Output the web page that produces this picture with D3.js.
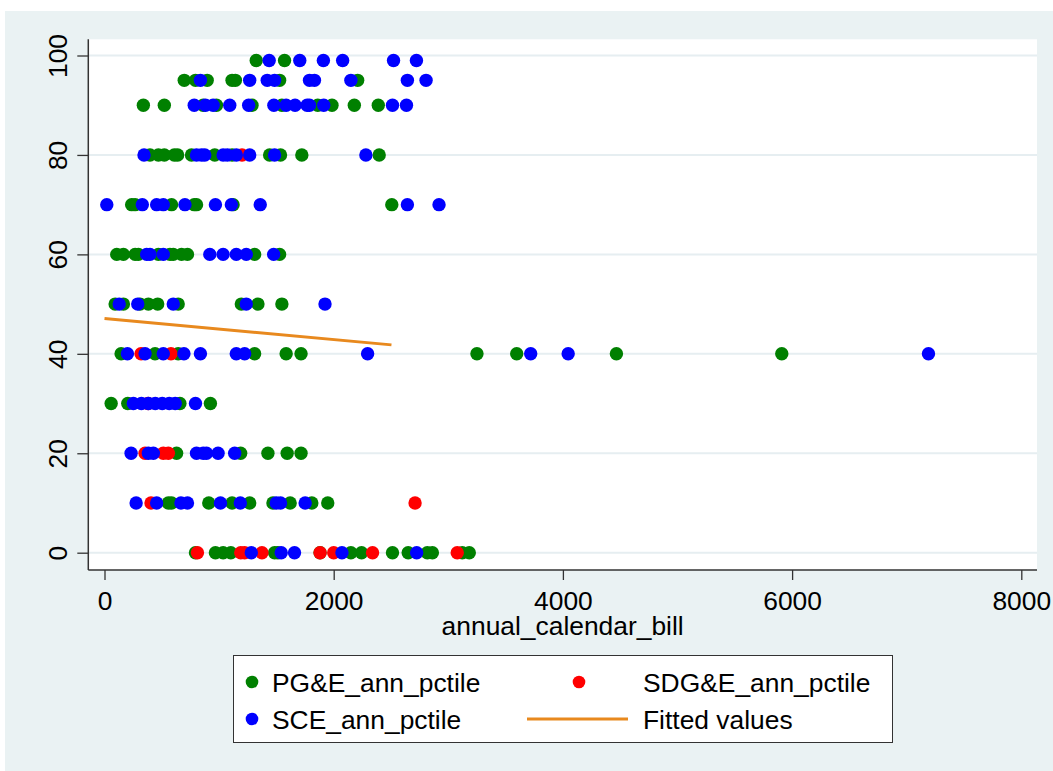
<!DOCTYPE html>
<html>
<head>
<meta charset="utf-8">
<script src="https://cdn.jsdelivr.net/npm/d3@7/dist/d3.min.js"></script>
<style>
  html, body { margin: 0; padding: 0; background: #ffffff; }
  svg { display: block; }
  text { font-family: "Liberation Sans", Arial, Helvetica, sans-serif; fill: #000; }
</style>
</head>
<body>
<svg id="chart" width="1053" height="771"></svg>
<script>
// Annual bill (x) versus annual percentile (y), by utility.
const pgePoints = [
  [1324,99],[1571,99],
  [696,95],[794,95],[896,95],[1113,95],[1142,95],[1528,95],[2209,95],
  [339,90],[522,90],[861,90],[977,90],[1287,90],[1548,90],[1861,90],[1985,90],[2180,90],[2389,90],
  [397,80],[470,80],[522,80],[609,80],[638,80],[759,80],[962,80],[1113,80],[1441,80],[1536,80],[1722,80],[2397,80],
  [237,70],[267,70],[585,70],[783,70],[803,70],[1122,70],[2507,70],
  [107,60],[165,60],[267,60],[296,60],[470,60],[571,60],[600,60],[672,60],[724,60],[1310,60],[1528,60],
  [93,50],[165,50],[310,50],[383,50],[464,50],[643,50],[1194,50],[1339,50],[1548,50],
  [145,40],[441,40],[643,40],[1310,40],[1585,40],[1715,40],[3250,40],[3597,40],[4467,40],[5910,40],
  [58,30],[203,30],[658,30],[924,30],
  [629,20],[1188,20],[1426,20],[1594,20],[1715,20],
  [557,10],[585,10],[910,10],[1113,10],[1267,10],[1470,10],[1620,10],[1809,10],[1948,10],
  [794,0],[968,0],[1035,0],[1102,0],[1484,0],[1513,0],[1881,0],[2150,0],[2243,0],[2513,0],[2650,0],[2817,0],[2861,0],[3122,0],[3183,0]
];

const sdgePoints = [
  [1200,80],
  [319,40],[580,40],
  [380,30],
  [354,20],[513,20],[557,20],
  [406,10],[2710,10],
  [811,0],[1189,0],[1223,0],[1374,0],[1881,0],[2000,0],[2339,0],[3078,0]
];

const scePoints = [
  [1437,99],[1704,99],[1910,99],[2078,99],[2522,99],[2722,99],
  [837,95],[1267,95],[1420,95],[1484,95],[1789,95],[1832,95],[2150,95],[2643,95],[2806,95],
  [783,90],[881,90],[948,90],[1093,90],[1258,90],[1478,90],[1585,90],[1663,90],[1768,90],[1789,90],[1913,90],[2513,90],[2635,90],
  [345,80],[803,80],[846,80],[875,80],[1035,80],[1072,80],[1150,80],[1267,80],[1484,80],[2281,80],
  [20,70],[330,70],[455,70],[513,70],[702,70],[968,70],[1107,70],[1359,70],[2643,70],[2919,70],
  [368,60],[397,60],[513,60],[919,60],[1035,60],[1150,60],[1237,60],[1476,60],
  [128,50],[290,50],[600,50],[1237,50],[1924,50],
  [200,40],[354,40],[513,40],[693,40],[837,40],[1150,40],[1223,40],[2296,40],[3719,40],[4046,40],[7190,40],
  [252,30],[322,30],[383,30],[443,30],[504,30],[565,30],[617,30],[794,30],
  [232,20],[383,20],[426,20],[803,20],[861,20],[890,20],[991,20],[1136,20],
  [276,10],[455,10],[667,10],[724,10],[1012,10],[1185,10],[1499,10],[1536,10],[1751,10],
  [1281,0],[1542,0],[1658,0],[2072,0],[2724,0]
];

const fittedPoints = [[0,47.1],[2504,41.8]];

const xTicks = [0, 2000, 4000, 6000, 8000];
const yTicks = [0, 20, 40, 60, 80, 100];
const xTitle = "annual_calendar_bill";
const legendLabels = ["PG&E_ann_pctile", "SDG&E_ann_pctile", "SCE_ann_pctile", "Fitted values"];

// ---- layout ----
const W = 1053, H = 771;
const plot = { left: 88.3, top: 39.3, right: 1037, bottom: 570 };
const colors = { pge: "#008000", sdge: "#ff0000", sce: "#0000ff", fit: "#e8891e" };
const fontSize = 26.4;

const svg = d3.select("#chart");

svg.append("rect").attr("x", 5).attr("y", 11).attr("width", W - 5).attr("height", H - 11)
  .attr("fill", "#eaf2f3");
svg.append("rect").attr("x", plot.left).attr("y", plot.top)
  .attr("width", plot.right - plot.left).attr("height", plot.bottom - plot.top)
  .attr("fill", "#ffffff");

const x = d3.scaleLinear().domain([0, 8000]).range([104.5, 1021.3]);
const y = d3.scaleLinear().domain([0, 100]).range([552.7, 55.5]);

// grid lines
svg.append("g").selectAll("line").data(yTicks).join("line")
  .attr("x1", plot.left).attr("x2", plot.right)
  .attr("y1", d => y(d)).attr("y2", d => y(d))
  .attr("stroke", "#e6eef1").attr("stroke-width", 2);

// axes
const yAxis = svg.append("g").attr("transform", `translate(${plot.left},0)`)
  .call(d3.axisLeft(y).tickValues(yTicks).tickSize(11).tickSizeOuter(0).tickFormat(d3.format("d")));
yAxis.select(".domain").remove();
yAxis.selectAll(".tick line").attr("stroke", "#333").attr("stroke-width", 1.3);
yAxis.selectAll(".tick text")
  .attr("transform", "rotate(-90)")
  .attr("x", 0).attr("y", -21.6).attr("dy", null)
  .attr("text-anchor", "middle")
  .style("font-size", fontSize + "px")
  .style("font-family", "'Liberation Sans', Arial, sans-serif")
  .attr("fill", "#000");

const xAxis = svg.append("g").attr("transform", `translate(0,${plot.bottom})`)
  .call(d3.axisBottom(x).tickValues(xTicks).tickSize(10).tickPadding(11).tickSizeOuter(0).tickFormat(d3.format("d")));
xAxis.select(".domain").remove();
xAxis.selectAll(".tick line").attr("stroke", "#333").attr("stroke-width", 1.3);
xAxis.selectAll(".tick text")
  .style("font-size", fontSize + "px")
  .style("font-family", "'Liberation Sans', Arial, sans-serif")
  .attr("fill", "#000");

// axis lines
svg.append("line").attr("x1", plot.left).attr("x2", plot.left)
  .attr("y1", plot.top).attr("y2", plot.bottom)
  .attr("stroke", "#333").attr("stroke-width", 1.5);
svg.append("line").attr("x1", plot.left).attr("x2", plot.right)
  .attr("y1", plot.bottom).attr("y2", plot.bottom)
  .attr("stroke", "#333").attr("stroke-width", 1.5);

svg.append("text").attr("x", (plot.left + plot.right) / 2).attr("y", 635)
  .attr("text-anchor", "middle").style("font-size", fontSize + "px").text(xTitle);

// markers
const r = 6.7;
const drawSeries = (pts, col) => svg.append("g").selectAll("circle").data(pts).join("circle")
  .attr("cx", d => x(d[0])).attr("cy", d => y(d[1])).attr("r", r).attr("fill", col);
drawSeries(pgePoints, colors.pge);
drawSeries(sdgePoints, colors.sdge);
drawSeries(scePoints, colors.sce);

// fitted line
svg.append("path").datum(fittedPoints)
  .attr("d", d3.line().x(d => x(d[0])).y(d => y(d[1])))
  .attr("fill", "none").attr("stroke", colors.fit).attr("stroke-width", 3);

// legend
const lg = svg.append("g");
lg.append("rect").attr("x", 233.5).attr("y", 655.5).attr("width", 659).attr("height", 87)
  .attr("fill", "#ffffff").attr("stroke", "#333").attr("stroke-width", 1);
const legendItems = [
  { label: legendLabels[0], type: "dot", col: colors.pge, sx: 252, tx: 272, cy: 682 },
  { label: legendLabels[1], type: "dot", col: colors.sdge, sx: 579, tx: 643, cy: 682 },
  { label: legendLabels[2], type: "dot", col: colors.sce, sx: 252, tx: 272, cy: 719 },
  { label: legendLabels[3], type: "line", col: colors.fit, sx: 577, tx: 643, cy: 719 }
];
legendItems.forEach(it => {
  if (it.type === "dot") {
    lg.append("circle").attr("cx", it.sx).attr("cy", it.cy).attr("r", 6.3).attr("fill", it.col);
  } else {
    lg.append("line").attr("x1", 527).attr("x2", 628).attr("y1", it.cy).attr("y2", it.cy)
      .attr("stroke", it.col).attr("stroke-width", 3);
  }
  lg.append("text").attr("x", it.tx).attr("y", it.cy + 10)
    .style("font-size", fontSize + "px").text(it.label);
});
</script>
</body>
</html>
